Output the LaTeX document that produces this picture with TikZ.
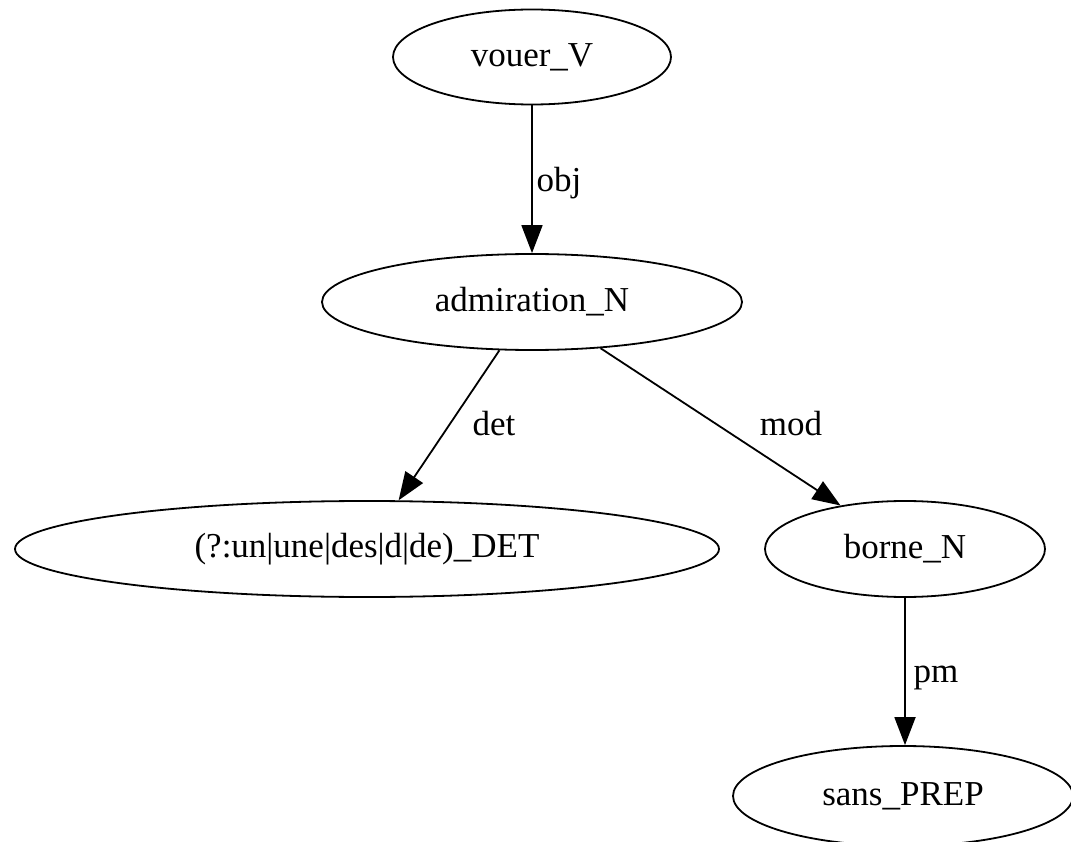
\documentclass[tikz,border=0pt]{standalone}
\usepackage{fontspec}
\setmainfont{Liberation Serif}
\usetikzlibrary{arrows.meta,shapes.geometric}
\begin{document}
\begin{tikzpicture}[x=1pt,y=-1pt,
  nd/.style={draw,ellipse,line width=1.8pt,inner sep=0pt,font=\fontsize{35}{42}\selectfont},
  lbl/.style={anchor=base,inner sep=0pt,font=\fontsize{35}{42}\selectfont},
  edge/.style={line width=1.8pt,-{Triangle[length=28pt,width=21pt]}}]
\useasboundingbox (0,0) rectangle (1071,842);
\node[nd,minimum width=278pt,minimum height=95pt] (vouer) at (532,57) {vouer\_V};
\node[nd,minimum width=420pt,minimum height=96pt] (adm) at (532,302) {admiration\_N};
\node[nd,minimum width=704pt,minimum height=96pt] (det) at (367,549) {(?:un|une|des|d|de)\_DET};
\node[nd,minimum width=280pt,minimum height=96pt] (borne) at (905,549) {borne\_N};
\node[nd,minimum width=340pt,minimum height=100pt] (sans) at (903,796) {sans\_PREP};
\draw[edge] (vouer.south) -- (adm.north);
\draw[edge] (adm.236) -- (det.57);
\draw[edge] (adm.-34) -- (borne.146);
\draw[edge] (borne.south) -- (sans.north -| borne.south);
\node[lbl] (lobj) at (559,192) {obj};
\node[lbl] (ldet) at (494,435) {det};
\node[lbl] (lmod) at (791,435) {mod};
\node[lbl] (lpm) at (936,682) {pm};
\end{tikzpicture}
\end{document}
